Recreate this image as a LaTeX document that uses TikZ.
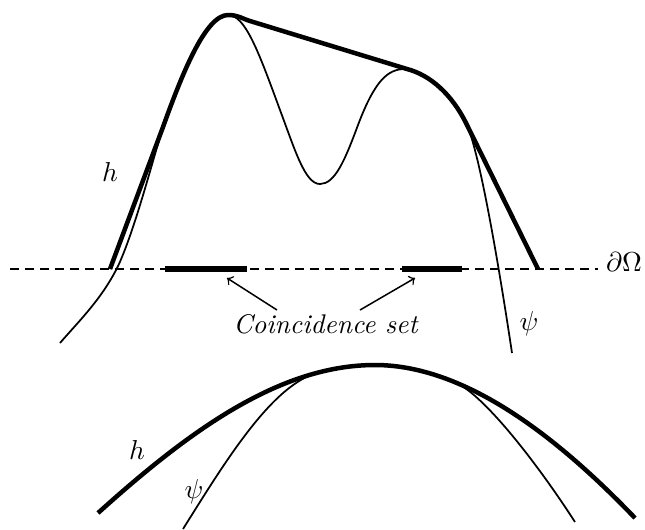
\documentclass[tikz,border=0pt]{standalone}
\begin{document}
\begin{tikzpicture}[x=.4pt,y=-.4pt,font=\fontsize{10.8}{13}\selectfont,
  hcurve/.style={line width=1.8pt,line join=round},
  psicurve/.style={line width=.7pt},
  cbar/.style={line width=2.2pt},
  lbl/.style={inner sep=0pt}]
\useasboundingbox (0,0) rectangle (645,529);
% boundary of Omega
\draw[line width=.6pt,dash pattern=on 3.6pt off 2.4pt] (10,269)--(598,269);
\node[lbl] (dom) at (624,262) {$\partial\Omega$};
% top picture: obstacle psi and its hull h
\draw[psicurve] (60,343) .. controls (78,322) and (103,298) .. (119,264)
  .. controls (135,228) and (150,170) .. (163,127)
  .. controls (181,77) and (205,15) .. (228,15)
  .. controls (245,15) and (258,50) .. (280,110)
  .. controls (295,150) and (305,184) .. (320,184)
  .. controls (335,184) and (345,160) .. (358,125)
  .. controls (375,80) and (388,69) .. (405,69)
  .. controls (430,74) and (452,94) .. (467,125)
  .. controls (478,150) and (495,240) .. (512,353);
\draw[hcurve] (110,269)--(163,127) .. controls (181,77) and (205,15) .. (228,15)
  .. controls (238,15) and (242,18.5) .. (250,21)--(407,69)
  .. controls (430,75) and (452,94) .. (467,125)--(538,269);
\node[lbl] (htop) at (110,172) {$h$};
\node[lbl] (psitop) at (529,324) {$\psi$};
% coincidence set
\draw[cbar] (165,269)--(247,269) (402,269)--(462,269);
\coordinate (cl) at (227,278); \coordinate (cr) at (415,278);
\node[lbl,anchor=base] (coin) at (326,333) {\textit{Coincidence set}};
\coordinate (tl) at (277,310); \coordinate (tr) at (360,310);
\draw[->,line width=.6pt] (tl)--(cl);
\draw[->,line width=.6pt] (tr)--(cr);
% bottom picture
\draw[psicurve] (183,529) .. controls (225,462) and (271.9,384.5) .. (318.5,372.4)
  .. controls (337.2,367.6) and (356,365) .. (375,365)
  .. controls (401.6,365) and (428.2,371.3) .. (454.3,381.9)
  .. controls (482,393) and (535,460) .. (575,522);
\draw[hcurve] (98,513) .. controls (190,430) and (280,365) .. (375,365)
  .. controls (470,365) and (565,445) .. (635,518);
\node[lbl] (hbot) at (137,450) {$h$};
\node[lbl] (psibot) at (194,492) {$\psi$};
\end{tikzpicture}
\end{document}
